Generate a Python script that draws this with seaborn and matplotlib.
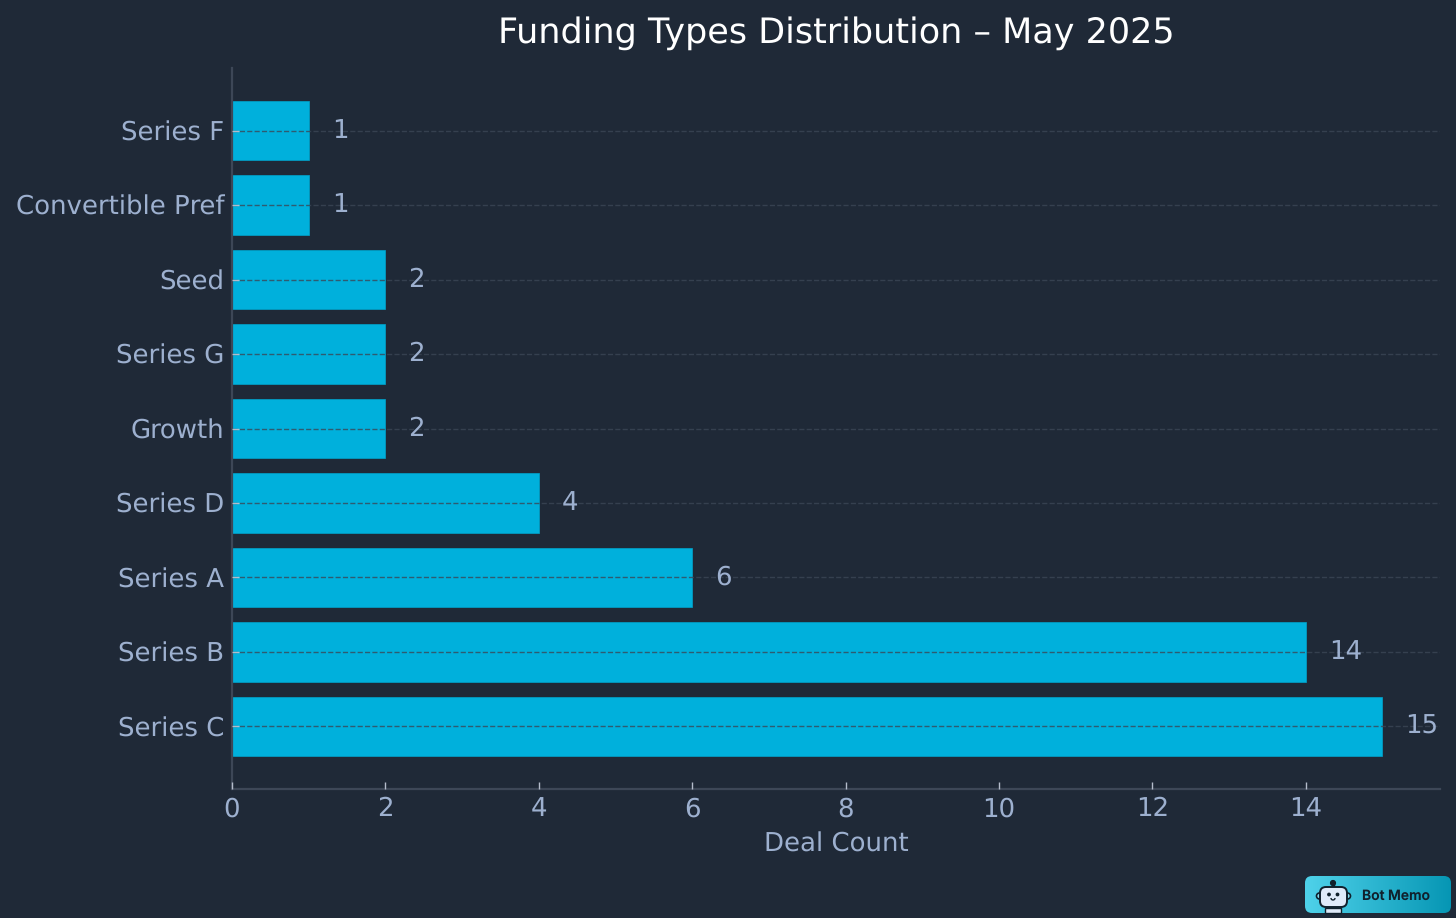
import numpy as np
import pandas as pd
import matplotlib
matplotlib.use("Agg")
import matplotlib.pyplot as plt
from matplotlib.patches import FancyBboxPatch, Circle, Rectangle, Arc
import seaborn as sns

funding_types = ["Series F", "Convertible Pref", "Seed", "Series G", "Growth",
                 "Series D", "Series A", "Series B", "Series C"]
deal_counts = [1, 1, 2, 2, 2, 4, 6, 14, 15]

BG = "#1f2937"
BAR = "#00b0dc"
LABEL = "#9db0cf"

sns.set_theme(style="dark", rc={"axes.facecolor": BG, "figure.facecolor": BG})
plt.rcParams["font.family"] = ["DejaVu Sans"]
plt.rcParams["text.hinting"] = "none"
plt.rcParams["text.hinting_factor"] = 1

df = pd.DataFrame({"type": funding_types, "count": deal_counts})

fig = plt.figure(figsize=(14.56, 9.18), dpi=100)
ax = fig.add_axes([232 / 1456, 1 - 789 / 918, (1440 - 232) / 1456, (789 - 68) / 918])

sns.barplot(data=df, x="count", y="type", color=BAR, saturation=1, width=0.8,
            edgecolor="#00a4cc", linewidth=0.5, ax=ax)

ax.set_xlim(0, 15.75)
ax.set_ylim(8.84, -0.84)
ax.set_axisbelow(False)
ax.grid(axis="y", linestyle="--", color="#3b4656", linewidth=1, alpha=0.8)
ax.grid(axis="x", visible=False)

ax.set_title("Funding Types Distribution – May 2025", color="white", fontsize=24.88, pad=18.5)
ax.set_xlabel("Deal Count", color=LABEL, fontsize=18.5, labelpad=7.5)
ax.set_ylabel("")
ax.set_xticks(range(0, 15, 2))
ax.tick_params(axis="both", direction="in", length=5, width=1, color="#b4bccb",
               labelcolor=LABEL, labelsize=18.5, pad=5.5, left=True, bottom=True)

for side in ["top", "right"]:
    ax.spines[side].set_visible(False)
for side in ["left", "bottom"]:
    ax.spines[side].set_color("#3d4757")
    ax.spines[side].set_linewidth(1.6)

for i, val in enumerate(deal_counts):
    ax.text(val + 0.3, i, str(val), color=LABEL, fontsize=18.5, va="center", ha="left")

# badge in the corner, pixel coordinates
badge = fig.add_axes([0, 0, 1, 1], facecolor="none")
box = FancyBboxPatch((1305, 876), 146, 37, boxstyle="round,pad=0,rounding_size=7",
                     facecolor="none", edgecolor="none")
badge.add_patch(box)
grad = np.linspace(0, 1, 256).reshape(1, -1)
cmap = matplotlib.colors.LinearSegmentedColormap.from_list("badge", ["#4fd2ea", "#0696b4"])
im = badge.imshow(grad, extent=(1305, 1451, 913, 876), cmap=cmap, aspect="auto", zorder=1)
im.set_clip_path(box)
badge.set_xlim(0, 1456)
badge.set_ylim(918, 0)
badge.axis("off")

dark = "#10202c"
badge.add_patch(Circle((1333, 883), 2.4, color=dark, zorder=3))
badge.add_patch(Rectangle((1332.4, 884), 1.2, 4, color=dark, zorder=3))
badge.add_patch(Circle((1319.5, 896), 3, color="#7fdcef", ec=dark, lw=1.2, zorder=2))
badge.add_patch(Circle((1347.5, 896), 3, color="#7fdcef", ec=dark, lw=1.2, zorder=2))
badge.add_patch(FancyBboxPatch((1320, 887), 27, 20, boxstyle="round,pad=0,rounding_size=6",
                               facecolor="#dfeaf9", edgecolor=dark, lw=1.4, zorder=3))
badge.add_patch(Circle((1329, 894.5), 1.2, color=dark, zorder=4))
badge.add_patch(Circle((1337.5, 894.5), 1.2, color=dark, zorder=4))
badge.add_patch(Arc((1333, 898), 4, 4, theta1=0, theta2=180, color=dark, lw=1, zorder=4))
badge.add_patch(Rectangle((1325, 908), 16, 4.5, facecolor="#dfeaf9", edgecolor=dark, lw=1, zorder=3))
badge.text(1396.5, 896.5, "Bot Memo", color=dark, fontsize=10, fontweight="semibold",
           family="Inter", ha="center", va="center", zorder=4)

fig.savefig("out.png", dpi=100, facecolor=BG)
